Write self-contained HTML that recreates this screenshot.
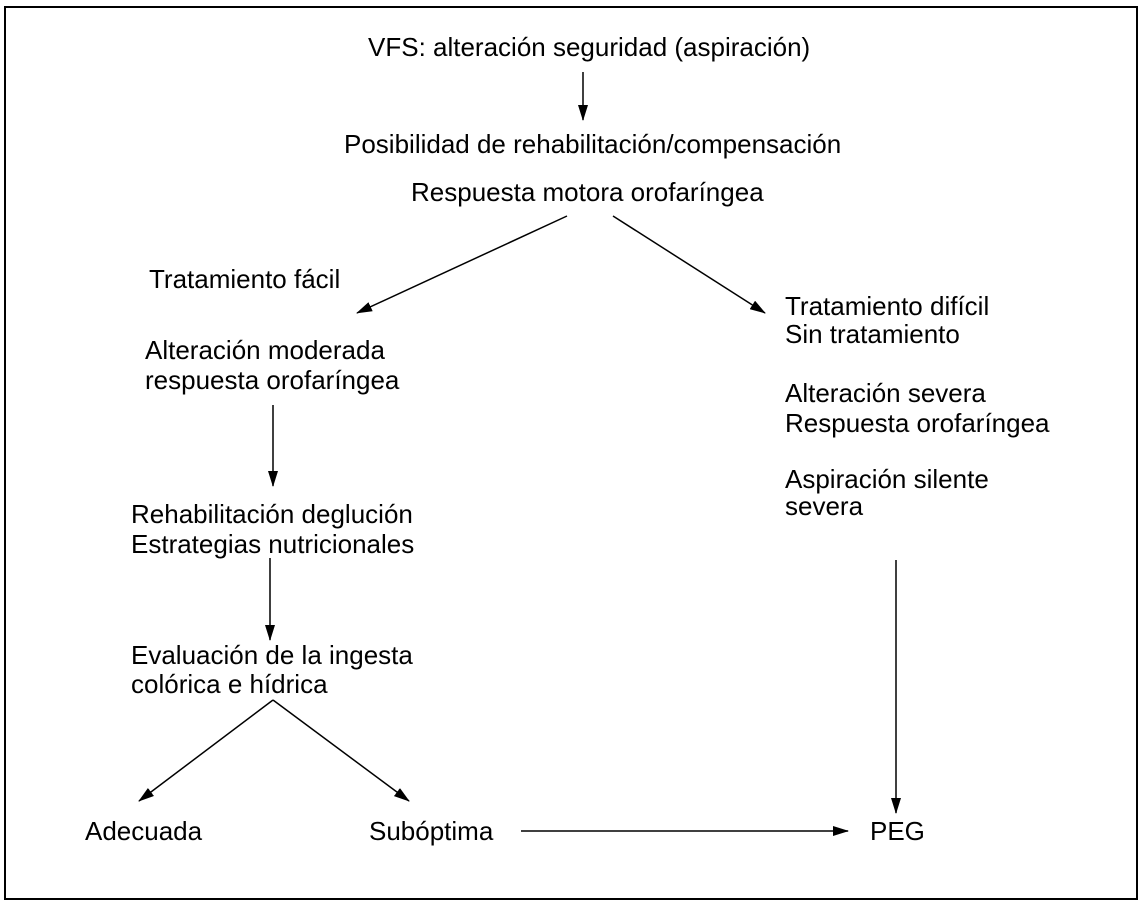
<!DOCTYPE html>
<html><head><meta charset="utf-8"><style>
html,body{margin:0;padding:0;background:#fff;}
svg{display:block;}
text{font-family:"Liberation Sans",Arial,sans-serif;font-size:26px;fill:#000;}
</style></head><body>
<svg width="1143" height="906" viewBox="0 0 1143 906" xmlns="http://www.w3.org/2000/svg">
<defs>
<marker id="b" markerWidth="16" markerHeight="10" refX="15" refY="5" orient="auto" markerUnits="userSpaceOnUse" viewBox="0 0 16 10"><path d="M0,0 L16,5 L0,10 z" fill="#000"/></marker></defs>
<rect x="5" y="7" width="1132" height="892" fill="none" stroke="#000" stroke-width="2"/>
<g stroke="#000" stroke-width="1.5" fill="none">
<line x1="583" y1="72" x2="583" y2="120" marker-end="url(#b)"/>
<line x1="567" y1="216" x2="357" y2="313" marker-end="url(#b)"/>
<line x1="613" y1="216" x2="765" y2="313" marker-end="url(#b)"/>
<line x1="273" y1="405" x2="273" y2="486" marker-end="url(#b)"/>
<line x1="270" y1="558" x2="270" y2="640" marker-end="url(#b)"/>
<line x1="273" y1="700" x2="139" y2="801" marker-end="url(#b)"/>
<line x1="273" y1="700" x2="409" y2="801" marker-end="url(#b)"/>
<line x1="521" y1="831" x2="848" y2="831" marker-end="url(#b)"/>
<line x1="896" y1="560" x2="896" y2="813" marker-end="url(#b)"/>
</g>
<text x="368" y="56">VFS: alteración seguridad (aspiración)</text>
<text x="344" y="153">Posibilidad de rehabilitación/compensación</text>
<text x="411" y="201">Respuesta motora orofaríngea</text>
<text x="149" y="288">Tratamiento fácil</text>
<text x="145" y="359">Alteración moderada</text>
<text x="145" y="389">respuesta orofaríngea</text>
<text x="131" y="523">Rehabilitación deglución</text>
<text x="131" y="553">Estrategias nutricionales</text>
<text x="131" y="664">Evaluación de la ingesta</text>
<text x="131" y="693">colórica e hídrica</text>
<text x="85" y="840">Adecuada</text>
<text x="369" y="840">Subóptima</text>
<text x="870" y="840">PEG</text>
<text x="785" y="315">Tratamiento difícil</text>
<text x="785" y="343">Sin tratamiento</text>
<text x="785" y="402">Alteración severa</text>
<text x="785" y="432">Respuesta orofaríngea</text>
<text x="785" y="488">Aspiración silente</text>
<text x="785" y="515">severa</text>
</svg>
</body></html>
